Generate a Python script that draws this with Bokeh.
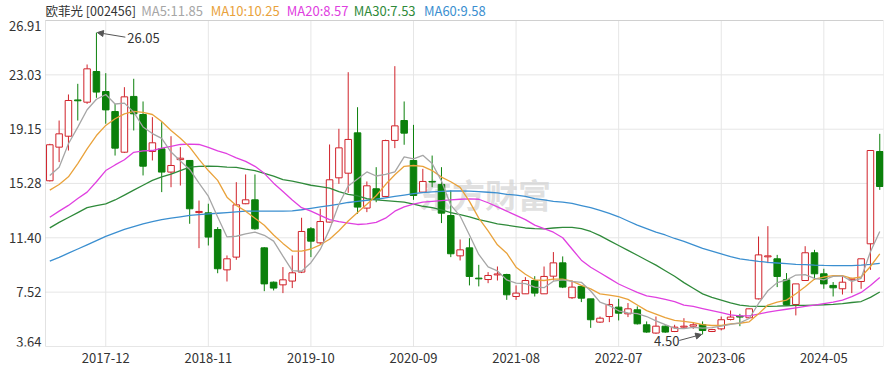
import pandas as pd
from bokeh.plotting import figure
from bokeh.models import ColumnDataSource, FixedTicker, Label, Arrow, NormalHead, Range1d, BoxAnnotation
from bokeh.core.properties import value
from bokeh.embed import file_html
from bokeh.resources import INLINE

# ---------------- data ----------------
stock_name = "欧菲光 [002456]"
months = [str(p) for p in pd.period_range("2017-06", "2024-11", freq="M")]

open_ = [15.47, 17.87, 18.65, 21.24, 21.08, 23.27, 21.84, 20.41, 17.51, 21.49,
         20.20, 17.56, 17.75, 16.09, 16.98, 16.92, 13.20, 13.18, 11.99, 9.11,
         10.02, 13.83, 14.11, 10.68, 8.23, 8.04, 8.31, 8.95, 12.04, 11.04,
         12.52, 15.68, 16.01, 18.89, 13.52, 14.90, 14.35, 18.35, 19.77, 16.92,
         14.66, 15.42, 15.21, 12.99, 10.11, 10.68, 8.52, 8.42, 8.75, 8.78,
         7.21, 7.40, 8.35, 7.40, 8.66, 9.61, 7.12, 7.93, 7.04, 5.38,
         5.78, 6.45, 5.97, 6.26, 5.19, 4.60, 5.09, 4.71, 5.02, 5.09,
         5.21, 4.71, 4.90, 5.57, 5.81, 5.69, 7.04, 10.04, 9.90, 8.40,
         6.64, 8.35, 10.33, 8.83, 8.00, 7.76, 8.40, 8.28, 10.97, 17.56]
high = [18.11, 19.77, 21.63, 22.39, 23.77, 26.05, 23.15, 20.96, 22.15, 22.75,
        21.13, 20.01, 19.65, 18.65, 17.87, 16.95, 14.06, 13.83, 12.16, 10.14,
        15.37, 15.92, 15.92, 10.73, 8.28, 9.31, 10.14, 12.83, 12.16, 13.47,
        18.06, 19.18, 23.22, 20.72, 15.42, 16.44, 18.40, 23.65, 21.13, 19.46,
        16.32, 17.27, 16.44, 14.78, 11.28, 11.37, 9.47, 8.95, 9.35, 8.83,
        8.00, 8.59, 8.66, 9.35, 10.38, 10.07, 8.35, 8.00, 7.04, 5.78,
        7.04, 7.04, 6.74, 6.50, 5.43, 5.78, 5.14, 5.19, 5.66, 5.38,
        5.43, 4.90, 5.78, 6.21, 5.97, 6.35, 11.49, 12.23, 10.18, 8.88,
        8.11, 10.80, 10.54, 9.19, 8.24, 8.66, 8.55, 9.90, 17.63, 18.82]
low = [15.42, 16.80, 17.63, 19.77, 20.96, 21.39, 19.54, 17.27, 17.45, 19.06,
       15.85, 16.92, 14.66, 15.01, 15.13, 12.40, 10.66, 10.85, 8.87, 8.28,
       9.83, 13.80, 11.97, 7.59, 7.64, 7.45, 7.81, 8.88, 10.02, 10.92,
       12.50, 15.25, 14.61, 13.11, 13.23, 13.94, 14.30, 17.80, 18.04, 14.11,
       14.66, 15.01, 12.45, 10.02, 9.78, 8.00, 7.93, 8.16, 8.35, 6.97,
       6.97, 7.40, 7.21, 7.40, 8.35, 7.81, 7.04, 6.81, 4.97, 5.33,
       5.38, 5.50, 5.74, 5.21, 4.62, 4.55, 4.62, 4.67, 4.97, 4.90,
       4.50, 4.67, 4.79, 5.50, 5.09, 5.66, 7.00, 9.59, 7.88, 6.64,
       5.86, 8.35, 8.40, 7.76, 7.21, 7.35, 7.45, 7.76, 9.11, 14.82]
close = [18.04, 18.82, 21.20, 21.18, 23.46, 21.80, 20.53, 17.80, 21.46, 20.25,
         16.51, 18.18, 16.09, 16.56, 17.08, 13.47, 13.28, 11.45, 9.19, 9.90,
         13.75, 14.11, 12.04, 8.11, 7.81, 8.40, 8.90, 11.85, 11.16, 12.56,
         15.54, 17.82, 18.42, 13.59, 15.11, 14.13, 18.34, 19.39, 18.87, 14.42,
         15.42, 15.38, 13.16, 10.26, 10.54, 8.64, 8.47, 8.71, 8.82, 7.33,
         7.45, 8.35, 7.45, 8.64, 9.61, 7.88, 7.88, 7.09, 5.55, 5.66,
         6.64, 6.02, 6.33, 5.26, 4.67, 5.09, 4.67, 5.02, 5.09, 5.19,
         4.78, 4.85, 5.55, 5.74, 5.74, 6.33, 10.18, 10.11, 8.64, 6.64,
         8.11, 10.33, 8.83, 8.11, 7.83, 8.23, 8.47, 9.90, 17.63, 15.06]

ma5 = [15.85, 16.44, 18.11, 19.30, 20.54, 21.29, 21.63, 20.95, 21.01, 20.37,
       19.31, 18.84, 18.50, 17.52, 16.88, 16.28, 15.30, 14.37, 12.89, 11.46,
       11.51, 11.68, 11.80, 11.58, 11.16, 10.09, 9.05, 9.01, 9.62, 10.57,
       12.00, 13.79, 15.10, 15.59, 16.10, 15.81, 15.92, 16.11, 17.17, 17.03,
       17.29, 16.70, 15.45, 13.73, 12.95, 11.60, 10.21, 9.32, 9.04, 8.39,
       8.16, 8.13, 7.88, 7.84, 8.30, 8.39, 8.29, 8.22, 7.60, 6.81,
       6.56, 6.19, 6.04, 5.98, 5.78, 5.47, 5.20, 4.94, 4.91, 5.01,
       4.95, 4.99, 5.09, 5.22, 5.33, 5.64, 6.71, 7.62, 8.20, 8.38,
       8.74, 8.77, 8.51, 8.40, 8.64, 8.67, 8.29, 8.51, 10.41, 11.85]
ma10 = [14.80, 15.20, 15.75, 16.70, 17.75, 18.70, 19.42, 19.90, 20.25, 20.42,
        20.35, 20.20, 19.70, 19.06, 18.50, 17.87, 17.00, 16.20, 15.50, 14.30,
        13.70, 13.30, 12.80, 12.30, 11.60, 11.00, 10.45, 10.45, 10.60, 10.90,
        11.30, 11.90, 12.60, 13.20, 13.80, 14.40, 15.20, 15.90, 16.50, 16.56,
        16.50, 16.20, 15.73, 15.40, 15.00, 14.00, 12.80, 11.90, 10.90, 10.30,
        9.30, 8.80, 8.40, 8.35, 8.45, 8.45, 8.30, 8.00, 7.75, 7.40,
        7.30, 7.20, 7.00, 6.60, 6.20, 5.95, 5.70, 5.50, 5.43, 5.35,
        5.20, 5.14, 5.14, 5.25, 5.30, 5.40, 5.97, 6.60, 6.80, 6.95,
        7.40, 7.90, 8.45, 8.60, 8.70, 8.70, 8.50, 8.60, 9.35, 10.25]
ma20 = [12.87, 13.30, 13.71, 14.20, 14.66, 15.40, 16.20, 16.60, 16.97, 17.50,
        17.60, 17.63, 17.80, 17.92, 18.06, 18.08, 18.06, 17.85, 17.60, 17.40,
        17.10, 16.85, 16.50, 16.00, 15.30, 14.70, 14.10, 13.55, 13.30, 13.00,
        12.70, 12.55, 12.45, 12.35, 12.40, 12.50, 12.80, 13.30, 13.60, 13.80,
        13.95, 14.00, 14.05, 14.10, 14.15, 14.18, 14.15, 13.90, 13.60, 13.30,
        13.00, 12.70, 12.30, 12.05, 11.80, 11.40, 10.60, 9.80, 9.30, 8.90,
        8.50, 8.10, 7.80, 7.50, 7.25, 7.15, 7.00, 6.85, 6.60, 6.50,
        6.35, 6.20, 6.05, 5.90, 5.82, 5.82, 5.95, 6.10, 6.20, 6.30,
        6.40, 6.50, 6.60, 6.70, 6.80, 6.95, 7.20, 7.50, 8.00, 8.57]
ma30 = [12.11, 12.50, 12.85, 13.20, 13.55, 13.70, 13.82, 14.10, 14.45, 14.80,
        15.15, 15.50, 15.75, 15.95, 16.20, 16.45, 16.50, 16.52, 16.50, 16.45,
        16.42, 16.30, 16.20, 16.00, 15.80, 15.55, 15.45, 15.30, 15.15, 15.05,
        14.95, 14.70, 14.50, 14.40, 14.20, 14.10, 14.05, 14.00, 13.95, 13.80,
        13.65, 13.55, 13.40, 13.20, 13.05, 12.90, 12.70, 12.55, 12.40, 12.30,
        12.20, 12.10, 12.05, 12.04, 12.10, 12.15, 12.15, 12.05, 11.85, 11.55,
        11.20, 10.85, 10.50, 10.15, 9.80, 9.45, 9.05, 8.65, 8.20, 7.80,
        7.40, 7.15, 6.95, 6.75, 6.60, 6.52, 6.50, 6.50, 6.52, 6.55,
        6.57, 6.58, 6.60, 6.62, 6.65, 6.70, 6.78, 6.85, 7.15, 7.53]
ma60 = [9.73, 10.00, 10.30, 10.60, 10.90, 11.20, 11.50, 11.75, 12.00, 12.20,
        12.40, 12.55, 12.70, 12.80, 12.90, 13.00, 13.05, 13.10, 13.15, 13.20,
        13.25, 13.30, 13.30, 13.30, 13.30, 13.30, 13.32, 13.40, 13.50, 13.60,
        13.70, 13.80, 13.92, 14.00, 14.08, 14.15, 14.25, 14.35, 14.45, 14.55,
        14.62, 14.68, 14.72, 14.74, 14.74, 14.73, 14.70, 14.65, 14.60, 14.50,
        14.45, 14.35, 14.20, 14.10, 14.00, 13.95, 13.85, 13.70, 13.55, 13.35,
        13.15, 12.90, 12.60, 12.30, 12.05, 11.80, 11.60, 11.35, 11.15, 10.90,
        10.65, 10.45, 10.25, 10.05, 9.90, 9.80, 9.72, 9.65, 9.60, 9.55,
        9.50, 9.48, 9.45, 9.43, 9.42, 9.42, 9.42, 9.45, 9.50, 9.58]

x_tick_labels = ["2017-12", "2018-11", "2019-10", "2020-09",
                 "2021-08", "2022-07", "2023-06", "2024-05"]
y_ticks = [3.64, 7.52, 11.40, 15.28, 19.15, 23.03, 26.91]
y_tick_labels = ["3.64", "7.52", "11.40", "15.28", "19.15", "23.03", "26.91"]
max_label = "26.05"
min_label = "4.50"

# ---------------- styling ----------------
UP = "#d0222a"
DOWN = "#0b800b"
FONT = "Noto Sans CJK SC"
MA_COLORS = ["#a6a6a6", "#e9a23b", "#e040e0", "#2f8a3a", "#3b8fd0"]
GRID = "#e6e6e6"
TXT = "#333333"

idx = list(range(len(months)))
up = [c >= o for o, c in zip(open_, close)]
src = ColumnDataSource(dict(
    x=idx, o=open_, h=high, l=low, c=close,
    top=[max(o, c) for o, c in zip(open_, close)],
    bot=[min(o, c) for o, c in zip(open_, close)],
    line=[UP if u else DOWN for u in up],
    fill=["#ffffff" if u else DOWN for u in up],
))

y0, y1 = y_ticks[0], y_ticks[-1]
x_start, x_end = -0.461, 89.40            # plot box, in candle units
px_per_idx = 838.0 / (x_end - x_start)    # plot box is 838 px wide
px_per_val = 326.0 / (y1 - y0)            # plot box is 326 px tall
left_space = 45.0 / px_per_idx            # room for the price labels
header_space = 20.0 / px_per_val          # room for the header row

p = figure(width=890, height=366, output_backend="svg", toolbar_location=None,
           x_range=Range1d(x_start - left_space, x_end),
           y_range=Range1d(y0, y1 + header_space),
           min_border_left=0, min_border_right=7, min_border_top=0,
           min_border_bottom=20)
p.background_fill_color = "#ffffff"
p.border_fill_color = "#ffffff"
p.outline_line_color = None
p.xgrid.grid_line_color = None
p.ygrid.grid_line_color = None
p.yaxis.visible = False

# grid
x_tick_idx = [months.index(m) for m in x_tick_labels]
p.segment(x0=x_tick_idx, y0=[y0] * len(x_tick_idx), x1=x_tick_idx,
          y1=[y1] * len(x_tick_idx), line_color=GRID, line_width=1)
p.segment(x0=[x_start] * len(y_ticks), y0=y_ticks, x1=[x_end] * len(y_ticks),
          y1=y_ticks, line_color=GRID, line_width=1)

# plot box border
p.add_layout(BoxAnnotation(left=x_start, right=x_end, bottom=y0, top=y1,
                           fill_alpha=0, line_color="#a0a0a0", line_width=1))

# price labels (left)
lx = x_start - 4.0 / px_per_idx
common = dict(text_font=value(FONT), text_font_size="13px", text_color=TXT, text_align="right")
p.text(x=[lx], y=[y_ticks[0]], text=[y_tick_labels[0]], text_baseline="bottom", **common)
p.text(x=[lx] * (len(y_ticks) - 2), y=y_ticks[1:-1], text=y_tick_labels[1:-1],
       text_baseline="middle", **common)
p.text(x=[lx], y=[y_ticks[-1]], text=[y_tick_labels[-1]], text_baseline="top", **common)

# watermark
p.text(x=[39.6], y=[14.5], text=["东方财富"], text_font=value(FONT),
       text_font_size="33px", text_font_style="bold", text_color="#d2d2d2",
       text_alpha=0.7, text_baseline="middle")

# candles
p.segment(x0="x", y0="h", x1="x", y1="l", line_color="line", line_width=1, source=src)
p.vbar(x="x", top="top", bottom="bot", width=0.7, fill_color="fill",
       line_color="line", line_width=1, source=src)

# moving averages
for arr, col in zip([ma60, ma30, ma20, ma10, ma5], MA_COLORS[::-1]):
    p.line(idx, arr, line_color=col, line_width=1.3)

# x axis
p.xaxis.ticker = FixedTicker(ticks=x_tick_idx)
p.xaxis.major_label_overrides = {i: m for i, m in zip(x_tick_idx, x_tick_labels)}
ax = p.xaxis[0]
ax.axis_line_color = None
ax.major_tick_line_color = None
ax.minor_tick_line_color = None
ax.major_tick_out = 0
ax.major_tick_in = 0
ax.major_label_text_font = FONT
ax.major_label_text_font_size = "13px"
ax.major_label_text_color = TXT
ax.major_label_standoff = 6

# header labels
ty = y1 + 10.0 / px_per_val
p.add_layout(Label(x=x_start, y=ty, text=stock_name, text_font=FONT, text_font_size="12.5px",
                   text_color=TXT, text_baseline="middle"))
ma_names = ["MA5", "MA10", "MA20", "MA30", "MA60"]
ma_last = [ma5[-1], ma10[-1], ma20[-1], ma30[-1], ma60[-1]]
ma_x = [9.8, 17.25, 25.41, 32.6, 40.12]
for name, v, col, xx in zip(ma_names, ma_last, MA_COLORS, ma_x):
    p.add_layout(Label(x=xx, y=ty, text=f"{name}:{v:.2f}", text_font=FONT,
                       text_font_size="13px", text_color=col, text_baseline="middle"))

# max / min annotations
i_max = high.index(max(high))
i_min = low.index(min(low))
p.add_layout(Arrow(end=NormalHead(size=6, fill_color="#555555", line_color="#555555"),
                   x_start=i_max + 3.1, y_start=max(high) - 0.33,
                   x_end=i_max + 0.1, y_end=max(high),
                   line_color="#555555", line_width=1))
p.add_layout(Label(x=i_max + 3.3, y=max(high) - 0.36, text=max_label, text_font=FONT,
                   text_font_size="13px", text_color=TXT, text_baseline="middle"))
p.add_layout(Arrow(end=NormalHead(size=6, fill_color="#555555", line_color="#555555"),
                   x_start=i_min - 2.5, y_start=min(low) - 0.43,
                   x_end=i_min - 0.1, y_end=min(low),
                   line_color="#555555", line_width=1))
p.add_layout(Label(x=i_min - 5.2, y=min(low) - 0.5, text=min_label, text_font=FONT,
                   text_font_size="13px", text_color=TXT, text_baseline="middle"))

open("out.html", "w").write(file_html(p, INLINE))
